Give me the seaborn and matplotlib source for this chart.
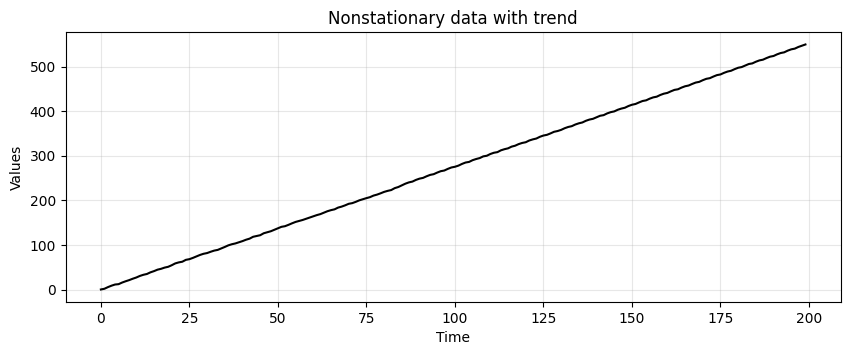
import seaborn as sns
from matplotlib import pyplot as plt
import numpy as np
import pandas as pd

time = list(range(200))

values = [
    0.5, 2.1, 5.8, 9.0, 11.6, 12.4, 16.0, 18.9, 21.5, 24.6,
    27.3, 30.8, 33.4, 35.2, 38.9, 41.6, 44.9, 46.8, 49.5, 51.3,
    54.8, 58.9, 61.2, 62.7, 66.9, 68.4, 71.3, 74.6, 77.9, 80.5,
    82.1, 85.0, 87.6, 89.2, 92.5, 95.8, 99.4, 101.9, 103.7, 106.2,
    108.9, 112.0, 114.4, 118.6, 120.3, 122.1, 126.5, 128.7, 131.0, 134.2,
    137.6, 140.9, 142.3, 145.4, 148.8, 151.9, 154.1, 156.3, 159.0, 161.8,
    164.5, 167.2, 169.4, 172.6, 175.9, 178.3, 180.1, 184.0, 186.2, 189.1,
    192.5, 194.0, 196.9, 200.3, 202.8, 205.2, 207.4, 210.9, 213.1, 216.0,
    219.2, 221.5, 223.3, 227.6, 230.1, 233.8, 237.6, 240.5, 242.3, 246.1,
    248.9, 250.6, 254.2, 257.3, 258.9, 262.5, 265.6, 267.1, 270.8, 273.9,
    275.5, 278.1, 281.9, 285.0, 286.4, 290.3, 292.9, 295.0, 298.8, 300.2,
    304.1, 306.9, 308.3, 312.4, 314.9, 316.8, 320.6, 322.7, 326.3, 328.9,
    330.5, 334.4, 336.9, 338.8, 342.7, 345.5, 347.1, 350.3, 353.9, 355.6,
    358.2, 361.9, 364.7, 366.5, 370.2, 372.9, 374.8, 378.6, 381.3, 383.0,
    386.5, 389.8, 391.2, 395.1, 397.9, 399.6, 403.3, 405.9, 407.8, 411.6,
    414.5, 416.2, 419.7, 422.9, 424.4, 428.1, 431.0, 432.6, 436.4, 439.3,
    441.0, 444.6, 447.8, 449.2, 452.9, 455.9, 457.6, 461.1, 464.2, 465.8,
    469.5, 472.6, 474.1, 477.7, 480.9, 482.4, 486.0, 488.9, 490.7, 494.3,
    497.4, 499.0, 502.5, 505.8, 507.2, 510.9, 513.9, 515.5, 519.1, 522.2,
    523.8, 527.5, 530.4, 532.0, 535.8, 538.7, 540.3, 544.0, 546.9, 549.6,
]

df = pd.DataFrame({'Time': time, 'Values': values})

fig, ax = plt.subplots(figsize=(10, 3.5))
sns.lineplot(x='Time', y='Values', data=df, color='black', linewidth=1.5, ax=ax)
ax.set_title('Nonstationary data with trend')
ax.set_xlabel('Time')
ax.set_ylabel('Values')
ax.grid(alpha=0.3)

plt.savefig('out.png', dpi=100, bbox_inches='tight')
